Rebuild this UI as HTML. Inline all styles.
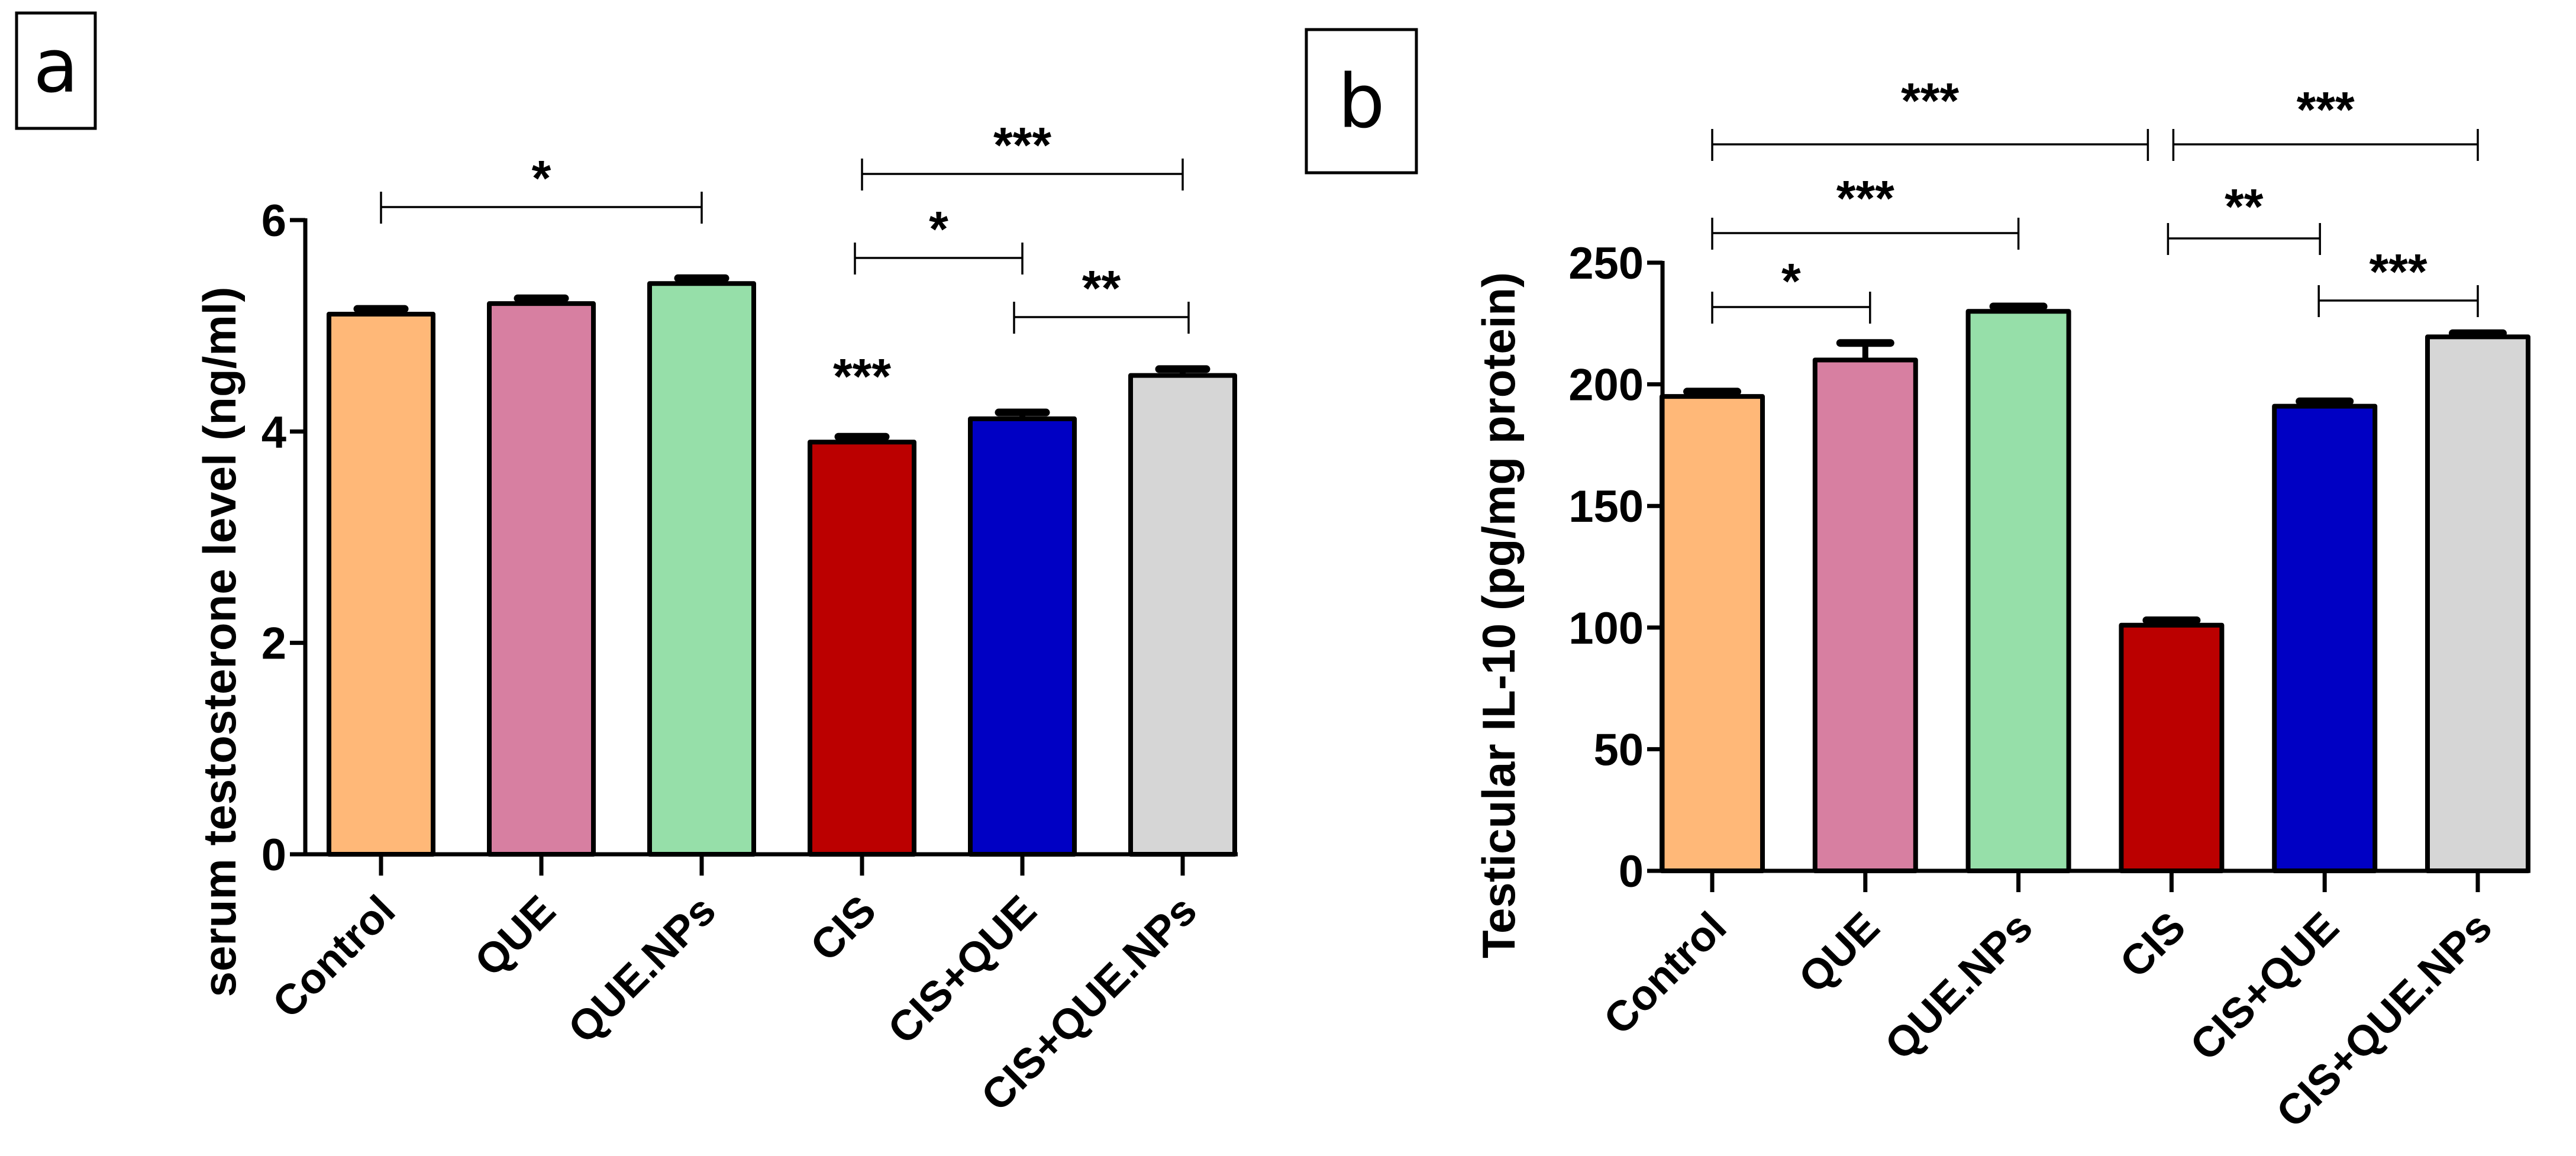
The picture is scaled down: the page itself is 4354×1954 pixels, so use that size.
<!DOCTYPE html>
<html><head><meta charset="utf-8"><style>
html,body{margin:0;padding:0;background:#fff;overflow:hidden;}
svg{display:block;font-family:"Liberation Sans",Arial,sans-serif;}
</style></head><body>
<svg id="fig" width="4354" height="1954" viewBox="0 0 4354 1954" xmlns="http://www.w3.org/2000/svg"></svg>
<script>
const categories = ["Control","QUE","QUE.NPs","CIS","CIS+QUE","CIS+QUE.NPs"];
const colors = ["#FFB878","#D77FA1","#96DFA9","#BB0000","#0000C4","#D6D6D6"];
const valuesA = [5.11, 5.21, 5.40, 3.90, 4.12, 4.53];
const errorsA = [0.05, 0.05, 0.05, 0.05, 0.06, 0.06];
const ticksA = [0, 2, 4, 6];
const valuesB = [195, 210, 230, 101, 191, 219.5];
const errorsB = [2, 7, 2, 2, 2, 1.5];
const ticksB = [0, 50, 100, 150, 200, 250];
const sigA = [[0,2,"*"],[3,5,"***"],[3,4,"*"],[4,5,"**"]];
const sigB = [[0,3,"***"],[3,5,"***"],[0,2,"***"],[3,4,"**"],[0,1,"*"],[4,5,"***"]];

const NS = "http://www.w3.org/2000/svg";
const svg = document.getElementById('fig');
function mk(tag, attrs, parent, text){
  const e = document.createElementNS(NS, tag);
  for (const k in attrs) e.setAttribute(k, attrs[k]);
  if (text !== undefined) e.textContent = text;
  (parent||svg).appendChild(e);
  return e;
}

function panel(cfg){
  const g = mk('g', {});
  
  
  const yScale = v => cfg.y0 - (v - cfg.vmin) / (cfg.vmax - cfg.vmin) * (cfg.y0 - cfg.yTop);
  const xScale = i => cfg.x0c + i * cfg.step;
  const box = mk('rect', {x:cfg.box[0], y:cfg.box[1], width:cfg.box[2], height:cfg.box[3], fill:'none', stroke:'#000', 'stroke-width':5}, g);
  
  
  const lt = mk('text', {x:cfg.box[0]+cfg.box[2]/2, y:cfg.box[1]+cfg.box[3]*0.68, 'text-anchor':'middle', 'font-size':125, fill:'#000', 'font-family':'"DejaVu Sans","Liberation Sans",sans-serif'}, g, cfg.letter);
  
  
  cfg.values.forEach((v,i)=>{
    const cx = xScale(i), top = yScale(v), et = yScale(v + cfg.errors[i]);
    const eb = mk('line', {x1:cx, x2:cx, y1:top, y2:et, stroke:'#000', 'stroke-width':10}, g);
    
    
    const cap = mk('line', {x1:cx-cfg.cap/2, x2:cx+cfg.cap/2, y1:et, y2:et, stroke:'#000', 'stroke-width':13, 'stroke-linecap':'round'}, g);
    
    
    const r = mk('rect', {x:cx-cfg.bw/2, y:top, width:cfg.bw, height:cfg.y0-top, fill:colors[i], stroke:'#000', 'stroke-width':8, 'stroke-linejoin':'round'}, g);
    
    
    const tk = mk('line', {x1:cx, x2:cx, y1:cfg.y0, y2:cfg.y0+36, stroke:'#000', 'stroke-width':7}, g);
    
    
    const lb = mk('text', {x:0, y:0, 'text-anchor':'end', 'font-size':72, 'font-weight':'bold', fill:'#000', transform:`translate(${cx+28},${cfg.y0+100}) rotate(-45)`}, g, categories[i]);
    
    
  });
  const ya = mk('line', {x1:cfg.ax, x2:cfg.ax, y1:cfg.yTop-3, y2:cfg.y0+3, stroke:'#000', 'stroke-width':7}, g);
  
  
  const xa = mk('line', {x1:cfg.ax-3, x2:cfg.xEnd, y1:cfg.y0, y2:cfg.y0, stroke:'#000', 'stroke-width':7}, g);
  
  
  cfg.ticks.forEach(t=>{
    const y = yScale(t);
    const tl = mk('line', {x1:cfg.ax-26, x2:cfg.ax, y1:y, y2:y, stroke:'#000', 'stroke-width':7}, g);
    
    
    const tt = mk('text', {x:cfg.ax-32, y:y+27, 'text-anchor':'end', 'font-size':76, 'font-weight':'bold', fill:'#000'}, g, String(t));
    
    
  });
  const yt = mk('text', {x:0, y:0, 'text-anchor':'middle', 'font-size':cfg.titleSize, 'font-weight':'bold', fill:'#000', transform:`translate(${cfg.titleX},${cfg.titleY}) rotate(-90)`}, g, cfg.title);
  
  
  cfg.sig.forEach((s,k)=>{
    const [a,b,lab] = s; const y = cfg.sigY[k];
    const off = cfg.sigOff[k];
    const x1 = xScale(a) + off[0], x2 = xScale(b) + off[1];
    const bg = mk('g', {}, g);
    
    
    mk('line', {x1:x1, x2:x2, y1:y, y2:y, stroke:'#000', 'stroke-width':3.5}, bg);
    mk('line', {x1:x1, x2:x1, y1:y-26, y2:y+28, stroke:'#000', 'stroke-width':3.5}, bg);
    mk('line', {x1:x2, x2:x2, y1:y-26, y2:y+28, stroke:'#000', 'stroke-width':3.5}, bg);
    mk('text', {x:(x1+x2)/2, y:y-cfg.labOff[k], 'text-anchor':'middle', 'font-size':84, 'font-weight':'bold', fill:'#000'}, bg, lab);
  });
  if (cfg.extraStar){
    const es = mk('text', {x:xScale(3), y:yScale(cfg.values[3])-82, 'text-anchor':'middle', 'font-size':84, 'font-weight':'bold', fill:'#000'}, g, '***');
    
    
  }
}

panel({name:'panel-a-testosterone', letter:'a', box:[28,22,133,195],
  values:valuesA, errors:errorsA, ticks:ticksA, vmin:0, vmax:6, y0:1444, yTop:372,
  ax:516, xEnd:2092, x0c:644, step:271, bw:176, cap:80,
  title:'serum testosterone level (ng/ml)', titleSize:78, titleX:398, titleY:1085,
  sig:sigA, sigY:[350,294,436,536], sigOff:[[0,0],[0,0],[-12,0],[-14,10]], labOff:[20,20,20,20], extraStar:true});

panel({name:'panel-b-il10', letter:'b', box:[2208,50,186,242],
  values:valuesB, errors:errorsB, ticks:ticksB, vmin:0, vmax:250, y0:1472, yTop:444,
  ax:2810, xEnd:4277, x0c:2894, step:258.8, bw:170, cap:85,
  title:'Testicular IL-10 (pg/mg protein)', titleSize:78, titleX:2560, titleY:1040,
  sig:sigB, sigY:[244,244,394,403,519,508], sigOff:[[0,-40],[3,0],[0,0],[-6,-8],[0,8],[-10,0]], labOff:[45,30,30,25,15,20], extraStar:false});
</script>
</body></html>
